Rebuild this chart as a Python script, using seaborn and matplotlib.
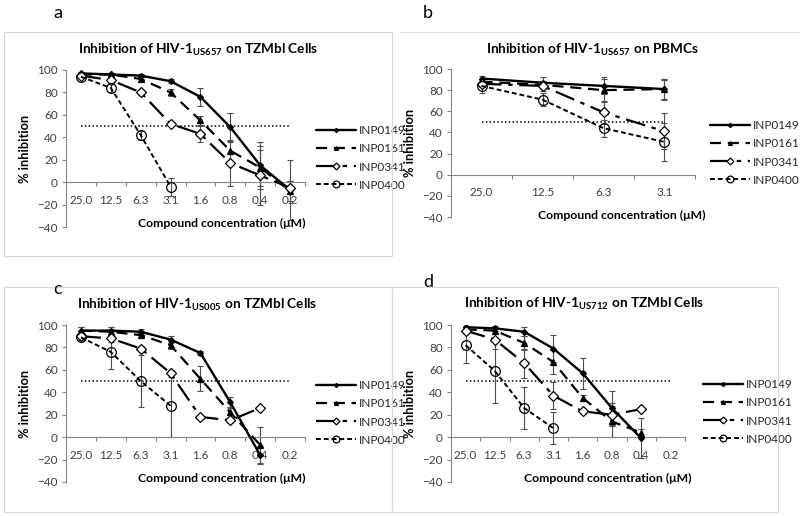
import numpy as np
import matplotlib
matplotlib.use('Agg')
import matplotlib.pyplot as plt
import seaborn as sns
from matplotlib.patches import Rectangle
from matplotlib.lines import Line2D

# concentrations (uM) on the category axis
conc_long = ['25.0', '12.5', '6.3', '3.1', '1.6', '0.8', '0.4', '0.2']
conc_short = ['25.0', '12.5', '6.3', '3.1']
compounds = ['INP0149', 'INP0161', 'INP0341', 'INP0400']

# a: HIV-1 US657 on TZMbl cells
a_149 = [97, 96, 95, 90, 76, 49, 15, -7]
a_149_err = [1, 1, 1, 2, 8, 13, 21, 27]
a_161 = [96, 96, 92, 80, 55, 28, 13, -8]
a_161_err = [1, 1, 2, 3, 4, 10, 16, 9]
a_341 = [95, 91, 80, 52, 43, 17, 6, -5]
a_341_err = [1, 2, 2, 2, 7, 20, 26, 6]
a_400 = [94, 84, 42, -4]
a_400_err = [1, 4, 4, 8]

# b: HIV-1 US657 on PBMCs
b_149 = [91, 87, 84, 81]
b_149_err = [2, 5, 8, 10]
b_161 = [88, 85, 80, 81]
b_161_err = [3, 4, 11, 9]
b_341 = [86, 84, 59, 41]
b_341_err = [3, 5, 11, 17]
b_400 = [84, 71, 44, 31]
b_400_err = [7, 6, 8, 18]

# c: HIV-1 US005 on TZMbl cells
c_149 = [95, 95, 94, 87, 75, 31, -16]
c_149_err = [3, 3, 2, 3, 2, 5, 8]
c_161 = [95, 94, 91, 82, 52, 22, -7]
c_161_err = [3, 2, 2, 3, 11, 5, 16]
c_341 = [90, 88, 79, 57, 18, 15, 26]
c_341_err = [2, 3, 2, 3, 1, 2, 1]
c_400 = [89, 76, 50, 28]
c_400_err = [2, 15, 23, 28]

# d: HIV-1 US712 on TZMbl cells
d_149 = [98, 97, 94, 79, 57, 26, -1]
d_149_err = [1, 2, 4, 12, 14, 15, 18]
d_161 = [96, 95, 84, 67, 35, 14, 4]
d_161_err = [2, 2, 6, 11, 3, 14, 3]
d_341 = [95, 87, 66, 37, 23, 20, 25]
d_341_err = [2, 8, 13, 12, 2, 10, 2]
d_400 = [82, 59, 26, 8]
d_400_err = [16, 29, 19, 14]

sns.set_theme(style='white')
plt.rcParams['font.family'] = ['Lato', 'DejaVu Sans']
plt.rcParams['mathtext.fontset'] = 'custom'
plt.rcParams['mathtext.rm'] = 'Lato'
plt.rcParams['mathtext.bf'] = 'Lato:bold'

W, H = 800, 516
fig = plt.figure(figsize=(8, 5.16), dpi=100)

def fx(x):
    return x / W

def fy(y):
    return 1 - y / H

# line style of each compound
styles = {
    'INP0149': dict(linestyle='-', lw=1.7, marker='D', markersize=3, markerfacecolor='black'),
    'INP0161': dict(linestyle=(0, (5, 3)), lw=1.6, marker='^', markersize=4, markerfacecolor='black'),
    'INP0341': dict(linestyle=(0, (9, 3, 2, 3)), lw=1.6, marker='D', markersize=5, markerfacecolor='white'),
    'INP0400': dict(linestyle=(0, (2.5, 1.5)), lw=1.4, marker='o', markersize=7, markerfacecolor='none'),
}
gray = '#868686'

# light chart-area frames
for (x0, y0, x1, y1) in [(4, 32, 392, 256), (4, 287, 392, 512), (392, 287, 778, 512)]:
    fig.patches.append(Rectangle((fx(x0), fy(y1)), fx(x1 - x0), (y1 - y0) / H,
                                 transform=fig.transFigure, fill=False,
                                 edgecolor='#d9d9d9', lw=0.8))
fig.lines.append(Line2D([fx(400), fx(800)], [fy(32), fy(32)], transform=fig.transFigure,
                        color='#e6e6e6', lw=0.8))


def panel(box, cats, series, title, letter, letter_xy, title_xy, xlabel_xy, legend_xy):
    l, t, r, b = box
    ax = fig.add_axes([fx(l), fy(b), fx(r - l), (b - t) / H])
    n = len(cats)
    for name, vals, errs in series:
        pos = np.arange(len(vals))
        ax.errorbar(pos, vals, yerr=errs, fmt='none', ecolor='#4d4d4d',
                    elinewidth=0.8, capsize=2.2, capthick=0.8, zorder=2)
        st = styles[name]
        sns.lineplot(x=pos, y=vals, ax=ax, color='black', markeredgecolor='black',
                     markeredgewidth=0.9, label=name, zorder=3, **st)
    ax.hlines(50, 0, n - 1, colors='black', linestyles=(0, (1, 1.5)), lw=1.1, zorder=1)
    ax.set_xlim(-0.5, n - 0.5)
    ax.set_ylim(-40, 100)
    ax.set_yticks(range(-40, 101, 20))
    ax.set_xticks(range(n))
    ax.set_xticklabels(cats)
    ax.set_xticks(np.arange(0.5, n - 0.4, 1), minor=True)
    ax.spines['top'].set_visible(False)
    ax.spines['right'].set_visible(False)
    ax.spines['bottom'].set_position(('data', 0))
    for s in ('left', 'bottom'):
        ax.spines[s].set_color(gray)
        ax.spines[s].set_linewidth(0.8)
    ax.tick_params(axis='y', which='major', direction='out', length=3, width=0.8,
                   color=gray, labelsize=8.5, labelcolor='#404040', pad=3, left=True)
    ax.tick_params(axis='x', which='major', length=0, labelsize=8.5,
                   labelcolor='#404040', pad=9, bottom=True)
    ax.tick_params(axis='x', which='minor', direction='out', length=3, width=0.8,
                   color=gray, bottom=True)
    ax.set_xlabel('')
    ax.set_ylabel('')
    ax.patch.set_alpha(0)
    leg = ax.legend(loc='center left', bbox_to_anchor=(fx(legend_xy[0]), fy(legend_xy[1])),
                    bbox_transform=fig.transFigure, frameon=False, fontsize=8.5,
                    handlelength=3.4, handletextpad=0.25, labelspacing=0.6,
                    borderpad=0, borderaxespad=0, markerscale=0.7)
    for txt in leg.get_texts():
        txt.set_color('#262626')
    fig.text(fx(title_xy[0]), fy(title_xy[1]), title, ha='center', va='center',
             fontsize=9.8, fontweight='bold', color='black')
    fig.text(fx(letter_xy[0]), fy(letter_xy[1]), letter, ha='center', va='center',
             fontsize=13, color='black')
    fig.text(fx(xlabel_xy[0]), fy(xlabel_xy[1]), 'Compound concentration (\u03bcM)',
             ha='center', va='center', fontsize=8.8, fontweight='bold', color='black')
    fig.text(fx(l - 41), fy((t + b) / 2), '% inhibition', ha='center', va='center',
             rotation=90, fontsize=9.2, fontweight='bold', color='black')
    return ax


panel((66, 70, 305, 227), conc_long,
      [('INP0149', a_149, a_149_err), ('INP0161', a_161, a_161_err),
       ('INP0341', a_341, a_341_err), ('INP0400', a_400, a_400_err)],
      r'Inhibition of HIV-1$_{\mathbf{US657}}$ on TZMbl Cells', 'a', (58, 13),
      (198, 50), (222, 223), (316, 158))

panel((451, 69, 695, 217), conc_short,
      [('INP0149', b_149, b_149_err), ('INP0161', b_161, b_161_err),
       ('INP0341', b_341, b_341_err), ('INP0400', b_400, b_400_err)],
      r'Inhibition of HIV-1$_{\mathbf{US657}}$ on PBMCs', 'b', (428, 13),
      (592, 50), (622, 215), (710, 153))

panel((66, 325, 305, 482), conc_long,
      [('INP0149', c_149, c_149_err), ('INP0161', c_161, c_161_err),
       ('INP0341', c_341, c_341_err), ('INP0400', c_400, c_400_err)],
      r'Inhibition of HIV-1$_{\mathbf{US005}}$ on TZMbl Cells', 'c', (58, 289),
      (197, 305), (222, 478), (316, 413))

panel((451, 325, 685, 482), conc_long,
      [('INP0149', d_149, d_149_err), ('INP0161', d_161, d_161_err),
       ('INP0341', d_341, d_341_err), ('INP0400', d_400, d_400_err)],
      r'Inhibition of HIV-1$_{\mathbf{US712}}$ on TZMbl Cells', 'd', (428, 282),
      (584, 304), (608, 478), (703, 412))

fig.savefig('out.png', dpi=100, facecolor='white')
